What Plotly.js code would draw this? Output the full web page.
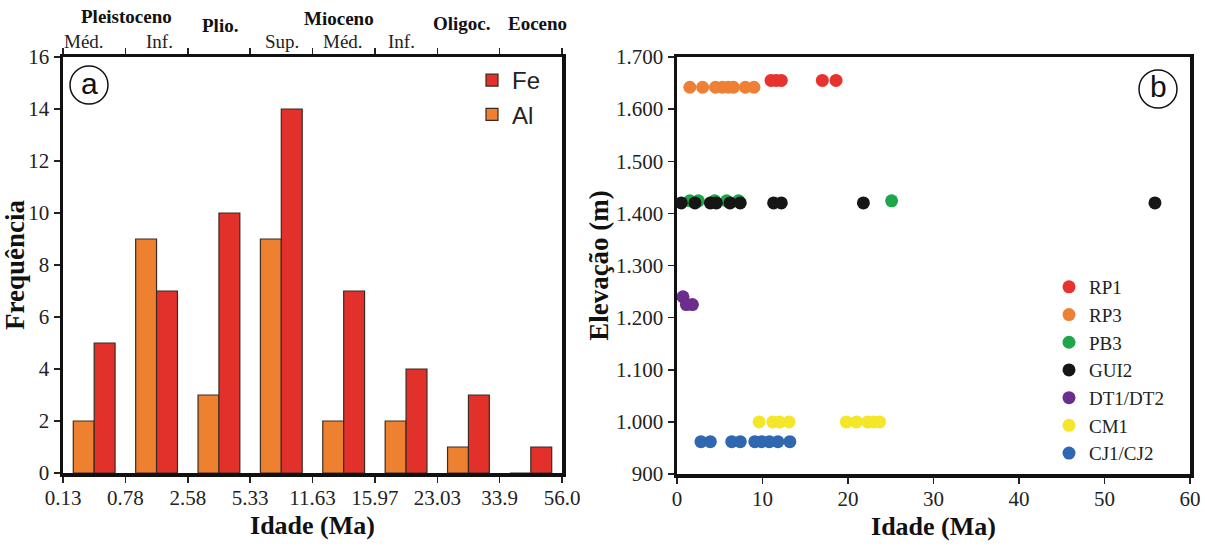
<!DOCTYPE html>
<html>
<head>
<meta charset="utf-8">
<script src="https://cdn.plot.ly/plotly-3.0.1.min.js"></script>
<style>
  html, body { margin: 0; padding: 0; background: #ffffff; }
  #chart { width: 1205px; height: 547px; }
</style>
</head>
<body>
<div id="chart"></div>
<script>
// ---- Panel (a): frequency of ages per geological interval ----
const ageBoundaryLabels = ['0.13', '0.78', '2.58', '5.33', '11.63', '15.97', '23.03', '33.9', '56.0'];
const intervalIndex = [0, 1, 2, 3, 4, 5, 6, 7];
const alFrequency = [2, 9, 3, 9, 2, 2, 1, 0];
const feFrequency = [5, 7, 10, 14, 7, 4, 3, 1];

// Epoch / sub-epoch names written above panel (a)
const epochNames = ['Pleistoceno', 'Plio.', 'Mioceno', 'Oligoc.', 'Eoceno'];
const subEpochNames = ['Méd.', 'Inf.', 'Sup.', 'Méd.', 'Inf.'];

// ---- Panel (b): age vs elevation per profile ----
const rp1Age = [11.0, 11.6, 12.2, 17.0, 18.6];
const rp1Elev = [1655, 1655, 1655, 1655, 1655];
const rp3Age = [1.5, 3.0, 4.5, 5.3, 6.0, 6.6, 8.0, 9.0];
const rp3Elev = [1642, 1642, 1642, 1642, 1642, 1642, 1642, 1642];
const pb3Age = [1.5, 2.5, 4.4, 5.8, 7.2, 25.1];
const pb3Elev = [1424, 1424, 1424, 1424, 1424, 1424];
const gui2Age = [0.5, 2.1, 3.9, 4.6, 6.2, 7.4, 11.3, 12.2, 21.8, 55.9];
const gui2Elev = [1420, 1420, 1420, 1420, 1420, 1420, 1420, 1420, 1420, 1420];
const dtAge = [0.7, 1.1, 1.8];
const dtElev = [1240, 1225, 1225];
const cm1Age = [9.6, 11.2, 12.0, 13.1, 19.8, 21.0, 22.3, 23.0, 23.7];
const cm1Elev = [1000, 1000, 1000, 1000, 1000, 1000, 1000, 1000, 1000];
const cjAge = [2.8, 3.9, 6.4, 7.4, 9.1, 9.9, 10.8, 11.8, 13.2];
const cjElev = [962, 962, 962, 962, 962, 962, 962, 962, 962];

const elevTickVals = [900, 1000, 1100, 1200, 1300, 1400, 1500, 1600, 1700];
const elevTickText = ['900', '1.000', '1.100', '1.200', '1.300', '1.400', '1.500', '1.600', '1.700'];
const ageTickVals = [0, 10, 20, 30, 40, 50, 60];

// ---- page geometry helpers (pixels -> paper fractions) ----
const W = 1205, H = 547;
const px = v => v / W;
const py = v => 1 - v / H;

const SERIF = '"Liberation Serif", "Times New Roman", serif';
const SANS = '"Liberation Sans", Arial, sans-serif';
const EDGE = '#3b2a22';

const traces = [
  {
    type: 'bar', name: 'Al', x: intervalIndex, y: alFrequency,
    xaxis: 'x', yaxis: 'y', legend: 'legend',
    marker: { color: '#ee812f', line: { color: EDGE, width: 1.2 } }
  },
  {
    type: 'bar', name: 'Fe', x: intervalIndex, y: feFrequency,
    xaxis: 'x', yaxis: 'y', legend: 'legend',
    marker: { color: '#e2302a', line: { color: EDGE, width: 1.2 } }
  }
];

const series = [
  ['RP1', rp1Age, rp1Elev, '#e8322d'],
  ['RP3', rp3Age, rp3Elev, '#ee8036'],
  ['PB3', pb3Age, pb3Elev, '#1fa64b'],
  ['GUI2', gui2Age, gui2Elev, '#161616'],
  ['DT1/DT2', dtAge, dtElev, '#6b2d8e'],
  ['CM1', cm1Age, cm1Elev, '#f4e628'],
  ['CJ1/CJ2', cjAge, cjElev, '#2f68b1']
];
series.forEach(([name, xs, ys, color]) => {
  traces.push({
    type: 'scatter', mode: 'markers', name: name, x: xs, y: ys,
    xaxis: 'x2', yaxis: 'y2', legend: 'legend2',
    marker: { color: color, size: 13, line: { width: 0 } }
  });
});

const tickFont = () => ({ family: SERIF, size: 21, color: '#222' });
const titleFont = size => ({ family: SERIF, size: size, color: '#111', weight: 'bold' });

// epoch label positions in interval units of panel (a)
const epochX = [0.51, 2.02, 3.92, 5.89, 7.11];
const epochY = [17, 25, 18, 24, 24];
const subEpochX = [-0.16, 1.04, 3.01, 3.99, 4.93];

const annotations = [];
epochNames.forEach((t, i) => annotations.push({
  xref: 'x', yref: 'paper', x: epochX[i], y: py(epochY[i]),
  text: '<b>' + t + '</b>', showarrow: false,
  font: { family: SERIF, size: 19, color: '#111' }, xanchor: 'center', yanchor: 'middle'
}));
subEpochNames.forEach((t, i) => annotations.push({
  xref: 'x', yref: 'paper', x: subEpochX[i], y: py(41),
  text: t, showarrow: false,
  font: { family: SERIF, size: 19, color: '#222' }, xanchor: 'center', yanchor: 'middle'
}));
// panel letters
annotations.push({ xref: 'paper', yref: 'paper', x: px(89), y: py(83), text: 'a', showarrow: false,
  font: { family: SANS, size: 30, color: '#111' }, xanchor: 'center', yanchor: 'middle' });
annotations.push({ xref: 'paper', yref: 'paper', x: px(1158), y: py(86), text: 'b', showarrow: false,
  font: { family: SANS, size: 30, color: '#111' }, xanchor: 'center', yanchor: 'middle' });

const shapes = [
  { type: 'circle', xref: 'paper', yref: 'paper', x0: px(70), x1: px(108), y0: py(104), y1: py(66),
    line: { color: '#111', width: 1.5 } },
  { type: 'circle', xref: 'paper', yref: 'paper', x0: px(1139), x1: px(1177), y0: py(108), y1: py(70),
    line: { color: '#111', width: 1.5 } }
];

const axisCommon = () => ({
  ticks: 'outside', ticklen: 6, tickwidth: 1.5, tickcolor: '#222',
  showline: true, linewidth: 3.5, linecolor: '#111',
  showgrid: false, zeroline: false, tickfont: tickFont()
});

const layout = {
  width: W, height: H,
  margin: { l: 0, r: 0, t: 0, b: 0 },
  paper_bgcolor: '#ffffff', plot_bgcolor: '#ffffff',
  barmode: 'group', bargap: 0.33, bargroupgap: 0,
  showlegend: true,
  xaxis: Object.assign(axisCommon(), {
    domain: [px(63), px(562)], range: [-0.5, 7.5], anchor: 'y', mirror: 'ticks',
    tickmode: 'array', tickvals: [-0.5, 0.5, 1.5, 2.5, 3.5, 4.5, 5.5, 6.5, 7.5], ticktext: ageBoundaryLabels,
    ticklabelstandoff: -3,
    title: { text: 'Idade (Ma)', font: titleFont(26), standoff: 8 }
  }),
  yaxis: Object.assign(axisCommon(), {
    domain: [py(473), py(57)], range: [0, 16], anchor: 'x', mirror: true,
    tickmode: 'linear', tick0: 0, dtick: 2,
    title: { text: 'Frequência', font: titleFont(27), standoff: 0 }
  }),
  xaxis2: Object.assign(axisCommon(), {
    domain: [px(677), px(1190)], range: [0, 60], anchor: 'y2', mirror: true,
    tickmode: 'array', tickvals: ageTickVals,
    ticklabelstandoff: -3,
    title: { text: 'Idade (Ma)', font: titleFont(26), standoff: 8 }
  }),
  yaxis2: Object.assign(axisCommon(), {
    domain: [py(474), py(57)], range: [900, 1700], anchor: 'x2', mirror: true,
    tickmode: 'array', tickvals: elevTickVals, ticktext: elevTickText,
    title: { text: 'Elevação (m)', font: titleFont(27), standoff: 0 }
  }),
  legend: {
    x: px(472), y: py(58), xanchor: 'left', yanchor: 'top',
    traceorder: 'reversed', bgcolor: 'rgba(0,0,0,0)',
    font: { family: SANS, size: 24, color: '#222' }, tracegroupgap: 0
  },
  legend2: {
    x: px(1049), y: py(268), xanchor: 'left', yanchor: 'top',
    traceorder: 'normal', bgcolor: 'rgba(0,0,0,0)', itemsizing: 'trace',
    font: { family: SERIF, size: 19, color: '#222' }
  },
  annotations: annotations,
  shapes: shapes
};

Plotly.newPlot('chart', traces, layout, { displayModeBar: false, staticPlot: true });
</script>
</body>
</html>
